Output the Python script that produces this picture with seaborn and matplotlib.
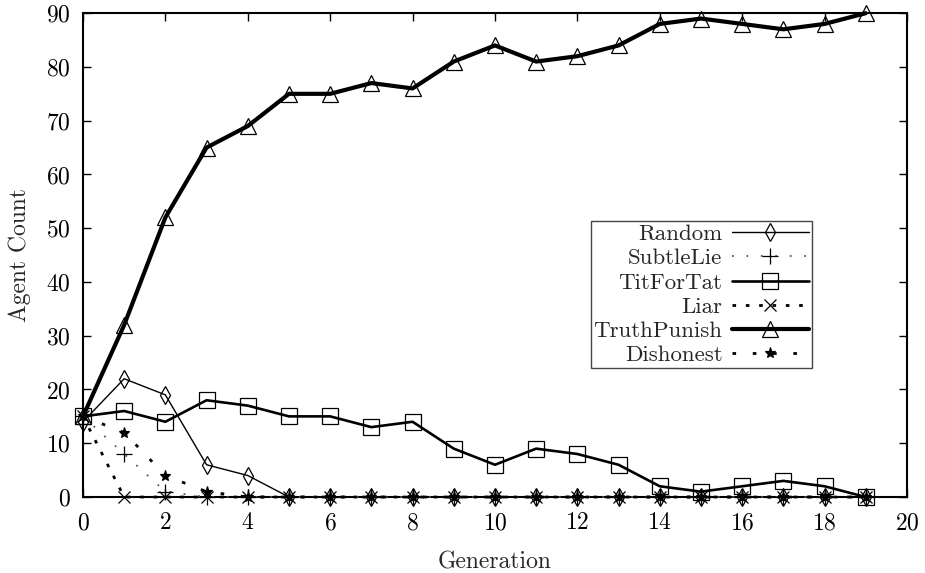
import numpy as np
import pandas as pd
import matplotlib
matplotlib.use('Agg')
import matplotlib.pyplot as plt
import seaborn as sns

# data
generations = list(range(20))
random_ = [14, 22, 19, 6, 4, 0, 0, 0, 0, 0, 0, 0, 0, 0, 0, 0, 0, 0, 0, 0]
subtle_lie = [15, 8, 1, 0, 0, 0, 0, 0, 0, 0, 0, 0, 0, 0, 0, 0, 0, 0, 0, 0]
tit_for_tat = [15, 16, 14, 18, 17, 15, 15, 13, 14, 9, 6, 9, 8, 6, 2, 1, 2, 3, 2, 0]
liar = [15, 0, 0, 0, 0, 0, 0, 0, 0, 0, 0, 0, 0, 0, 0, 0, 0, 0, 0, 0]
truth_punish = [15, 32, 52, 65, 69, 75, 75, 77, 76, 81, 84, 81, 82, 84, 88, 89, 88, 87, 88, 90]
dishonest = [15, 12, 4, 1, 0, 0, 0, 0, 0, 0, 0, 0, 0, 0, 0, 0, 0, 0, 0, 0]

sns.set_style('ticks')
plt.rcParams['font.family'] = ['cmr10', 'DejaVu Serif']
plt.rcParams['axes.formatter.use_mathtext'] = True
plt.rcParams['mathtext.fontset'] = 'cm'

fig = plt.figure(figsize=(9.25, 5.73), dpi=100)
ax = fig.add_axes([0.0897, 0.1326, 0.8908, 0.8444])

# (label, values, linestyle, linewidth, marker, marker size, line colour)
series = [
    ('Random', random_, '-', 1.0, 'd', 9, 'black'),
    ('SubtleLie', subtle_lie, (0, (1, 7)), 1.3, '+', 11, '#555555'),
    ('TitForTat', tit_for_tat, '-', 1.9, 's', 11, 'black'),
    ('Liar', liar, (0, (1.3, 3.5)), 2.0, 'x', 8, 'black'),
    ('TruthPunish', truth_punish, '-', 3.0, '^', 12, 'black'),
    ('Dishonest', dishonest, (0, (1.3, 6)), 2.0, '*', 8, 'black'),
]

for label, vals, ls, lw, mk, ms, col in series:
    df = pd.DataFrame({'gen': generations, 'count': vals})
    filled = mk in ('*',)
    sns.lineplot(data=df, x='gen', y='count', ax=ax, label=label,
                 linestyle=ls, lw=lw, color=col, marker=mk, markersize=ms,
                 markerfacecolor='black' if filled else 'none',
                 markeredgecolor='black', markeredgewidth=0.9,
                 clip_on=False, zorder=3)

ax.set_xlim(0, 20)
ax.set_ylim(0, 90)
ax.set_xticks(range(0, 21, 2))
ax.set_yticks(range(0, 91, 10))
ax.tick_params(direction='in', length=6, width=1, top=True, right=True,
               labelsize=17, colors='black', pad=9)
ax.tick_params(axis='x', pad=11)
for sp in ax.spines.values():
    sp.set_linewidth(1.5)
    sp.set_color('black')
    sp.set_visible(True)

ax.set_xlabel('Generation', fontsize=17, labelpad=12)
ax.set_ylabel('Agent Count', fontsize=17, labelpad=11)

leg = ax.legend(loc='lower right', bbox_to_anchor=(0.885, 0.267), markerfirst=False,
                fontsize=16.5, frameon=True, fancybox=False, edgecolor='#444444',
                framealpha=1, handlelength=3.4, handletextpad=0.4,
                labelspacing=0.18, borderpad=0.12, borderaxespad=0)
leg.get_frame().set_linewidth(1.0)

fig.savefig('out.png', dpi=100)
